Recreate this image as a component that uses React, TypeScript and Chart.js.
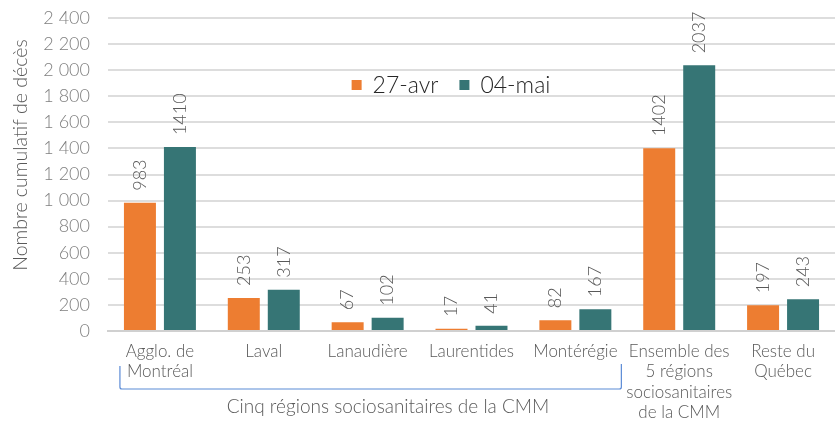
import React, { useEffect, useRef } from "react";
import { Chart, registerables } from "chart.js";

Chart.register(...registerables);

const categories: string[][] = [
  ["Agglo. de", "Montréal"],
  ["Laval"],
  ["Lanaudière"],
  ["Laurentides"],
  ["Montérégie"],
  ["Ensemble des", "5 régions", "sociosanitaires", "de la CMM"],
  ["Reste du", "Québec"],
];
const seriesNames = ["27-avr", "04-mai"];
const avr27 = [983, 253, 67, 17, 82, 1402, 197];
const mai04 = [1410, 317, 102, 41, 167, 2037, 243];
const yTicks = [0, 200, 400, 600, 800, 1000, 1200, 1400, 1600, 1800, 2000, 2200, 2400];
const yTitle = "Nombre cumulatif de décès";
const groupLabel = "Cinq régions sociosanitaires de la CMM";

const colors = ["#ED7D31", "#367575"];
const FONT = "Lato";

const fmt = (v: number) => {
  const s = String(Math.round(v));
  return s.replace(/\B(?=(\d{3})+(?!\d))/g, " ");
};

const extrasPlugin = {
  id: "extras",
  afterDatasetsDraw(chart: any) {
    const ctx = chart.ctx;
    ctx.save();
    ctx.font = `300 18px ${FONT}`;
    ctx.fillStyle = "#595959";
    ctx.textAlign = "left";
    ctx.textBaseline = "middle";
    chart.data.datasets.forEach((ds: any, di: number) => {
      const meta = chart.getDatasetMeta(di);
      meta.data.forEach((bar: any, i: number) => {
        ctx.save();
        ctx.translate(bar.x, bar.y - 12);
        ctx.rotate(-Math.PI / 2);
        ctx.fillText(String(ds.data[i]), 0, 0);
        ctx.restore();
      });
    });
    ctx.restore();
  },
  afterDraw(chart: any) {
    const ctx = chart.ctx;
    const area = chart.chartArea;
    const xs = chart.scales.x;
    // y-axis title
    ctx.save();
    ctx.font = `300 19.5px ${FONT}`;
    ctx.fillStyle = "#595959";
    ctx.textAlign = "center";
    ctx.textBaseline = "middle";
    ctx.translate(21, area.top + 137);
    ctx.rotate(-Math.PI / 2);
    ctx.fillText(yTitle, 0, 0);
    ctx.restore();

    // legend
    ctx.save();
    ctx.font = `300 23px ${FONT}`;
    ctx.textBaseline = "middle";
    ctx.textAlign = "left";
    const box = 10;
    const gapBox = 11;
    const gapItem = 21;
    const widths = seriesNames.map((n) => ctx.measureText(n).width);
    const total = widths.reduce((a, w) => a + box + gapBox + w, 0) + gapItem;
    let lx = 451 - total / 2;
    const ly = area.top + 67;
    seriesNames.forEach((n, i) => {
      ctx.fillStyle = colors[i];
      ctx.fillRect(lx, ly - box / 2, box, box);
      lx += box + gapBox;
      ctx.fillStyle = "#262626";
      ctx.fillText(n, lx, ly + 1);
      lx += widths[i] + gapItem;
    });
    ctx.restore();

    // bracket
    const left = xs.getPixelForValue(0) - 40;
    const right = xs.getPixelForValue(4) + 46;
    const top = area.bottom + 33;
    const bottom = area.bottom + 58;
    ctx.save();
    ctx.strokeStyle = "#5B8BD6";
    ctx.lineWidth = 1.2;
    ctx.beginPath();
    ctx.moveTo(left, top + 2);
    ctx.lineTo(left, bottom - 2);
    ctx.quadraticCurveTo(left, bottom, left + 2, bottom);
    ctx.lineTo(right - 2, bottom);
    ctx.quadraticCurveTo(right, bottom, right, bottom - 2);
    ctx.lineTo(right, top);
    ctx.stroke();
    ctx.font = `300 19px ${FONT}`;
    ctx.fillStyle = "#595959";
    ctx.textAlign = "center";
    ctx.textBaseline = "middle";
    ctx.fillText(groupLabel, 388, area.bottom + 76);
    ctx.restore();
  },
};

export default function App() {
  const ref = useRef<HTMLCanvasElement>(null);
  useEffect(() => {
    if (!ref.current) return;
    const chart = new Chart(ref.current, {
      type: "bar",
      data: {
        labels: categories,
        datasets: [
          { label: seriesNames[0], data: avr27, backgroundColor: colors[0] },
          { label: seriesNames[1], data: mai04, backgroundColor: colors[1] },
        ],
      },
      options: {
        animation: false,
        responsive: false,
        maintainAspectRatio: false,
        layout: { padding: { top: 18, left: 0, right: 0, bottom: 0 } },
        plugins: {
          legend: { display: false },
          tooltip: { enabled: false },
        },
        datasets: {
          bar: { categoryPercentage: 0.77, barPercentage: 0.8 },
        },
        scales: {
          x: {
            grid: { display: false, drawTicks: false },
            border: { display: true, color: "#D0D0D0", width: 2 },
            ticks: {
              color: "#595959",
              font: { family: FONT, size: 17, weight: 300, lineHeight: "20.5px" },
              padding: 10,
              maxRotation: 0,
              autoSkip: false,
            },
            afterFit: (s: any) => {
              s.height = 90;
              s.paddingLeft = 0;
              s.paddingRight = 0;
            },
          },
          y: {
            min: 0,
            max: 2400,
            afterBuildTicks: (s: any) => {
              s.ticks = yTicks.map((v) => ({ value: v }));
            },
            grid: { color: "#DDDDDD", lineWidth: 2, drawTicks: false },
            border: { display: false },
            ticks: {
              color: "#7F7F7F",
              font: { family: FONT, size: 18, weight: 300 },
              padding: 18,
              callback: (v: any) => fmt(Number(v)),
            },
            afterFit: (s: any) => {
              s.width = 108;
              s.paddingTop = 0;
              s.paddingBottom = 0;
            },
          },
        },
      },
      plugins: [extrasPlugin],
    });
    return () => chart.destroy();
  }, []);
  return (
    <div style={{ position: "fixed", left: 0, top: 0, width: 835, height: 421, background: "#fff" }}>
      <canvas ref={ref} width={835} height={421} />
    </div>
  );
}
